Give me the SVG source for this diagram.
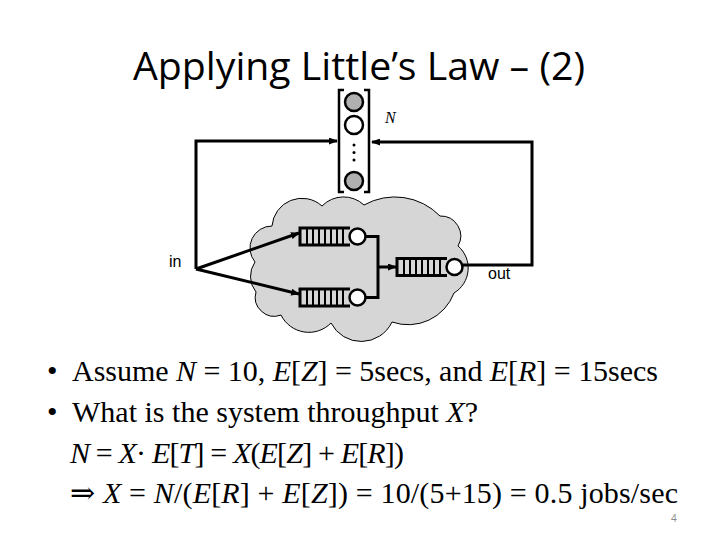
<svg xmlns="http://www.w3.org/2000/svg" xmlns:xlink="http://www.w3.org/1999/xlink" width="720" height="540" viewBox="0 0 720 540">
<style>
.title{font-family:"Open Sans","Liberation Sans",sans-serif;font-size:38px;fill:#000}
.lbl{font-family:"Liberation Sans",Arial,sans-serif;font-size:16px;fill:#000}
.body{font-family:"Liberation Serif","DejaVu Serif",serif;font-size:30px;fill:#000}
.it{font-style:italic}
.wire{fill:none;stroke:#000;stroke-width:3}
.bar{stroke:#000;stroke-width:2}
.srv{fill:#fff;stroke:#000;stroke-width:2.5}
.term{fill:#b0b0b0;stroke:#000;stroke-width:2.5}
.brk{fill:none;stroke:#000;stroke-width:2.5}
.cloud{fill:#d6d6d6;stroke:#000;stroke-width:1}
.pg{font-family:"Open Sans","Liberation Sans",sans-serif;font-size:10px;fill:#888}
</style>
<defs>
<marker id="ah" markerUnits="userSpaceOnUse" markerWidth="9" markerHeight="7" refX="8" refY="3.5" orient="auto">
<path d="M0,0 L9,3.5 L0,7 z" fill="#000"/>
</marker>
<g id="q">
<path class="wire" d="M0,0 H50 M0,17 H50 M0,-1.5 V18.5"/>
<path class="bar" d="M7,0 V17 M13,0 V17 M19,0 V17 M25,0 V17 M31,0 V17 M37,0 V17 M43,0 V17"/>
<circle class="srv" cx="57.5" cy="8.5" r="8"/>
</g>
</defs>

<text class="title" x="133" y="80" textLength="452" lengthAdjust="spacingAndGlyphs">Applying Little’s Law – (2)</text>

<g id="cloud">
<path class="cloud" d="M255,262 A22,22 0 0 1 272,226 A30,30 0 0 1 322,206 A30,30 0 0 1 364,205 A63,63 0 0 1 440,216 A20,20 0 0 1 458,246 A29,29 0 0 1 454,293 A49,49 0 0 1 392,322 A34,34 0 0 1 331,323 A31,31 0 0 1 281,315 A19,19 0 0 1 256,292 A25,25 0 0 1 255,262 Z"/>
</g>

<g id="connectors">
<polyline class="wire" points="196,269 196,141 337,141" marker-end="url(#ah)"/>
<polyline class="wire" points="463,265 532,265 532,142 372,142" marker-end="url(#ah)"/>
<line class="wire" x1="196" y1="269" x2="299" y2="233" marker-end="url(#ah)"/>
<line class="wire" x1="196" y1="269" x2="299" y2="294" marker-end="url(#ah)"/>
<polyline class="wire" points="365,236.5 378,236.5 378,297.5 365,297.5"/>
<line class="wire" x1="378" y1="267" x2="396" y2="267" marker-end="url(#ah)"/>
</g>

<g id="terminals">
<path class="brk" d="M344,90 H339 V192 H344 M364,90 H369 V192 H364"/>
<circle class="term" cx="354" cy="102" r="9"/>
<circle class="srv" cx="354" cy="125" r="9"/>
<circle cx="354" cy="145" r="1.5" fill="#000"/>
<circle cx="354" cy="152.5" r="1.5" fill="#000"/>
<circle cx="354" cy="160" r="1.5" fill="#000"/>
<circle class="term" cx="354" cy="181" r="9"/>
<text x="385" y="123" font-family="Liberation Serif,serif" font-style="italic" font-size="16">N</text>
</g>

<g id="queue-upper" transform="translate(300,228)"><use xlink:href="#q"/></g>
<g id="queue-lower" transform="translate(300,289)"><use xlink:href="#q"/></g>
<g id="queue-right" transform="translate(397,258.5)"><use xlink:href="#q"/></g>

<g id="labels">
<text class="lbl" x="169" y="267">in</text>
<text class="lbl" x="488" y="279">out</text>
</g>

<g id="text">
<text class="body" x="47" y="381">•</text>
<text class="body" x="72" y="381" textLength="586" lengthAdjust="spacing">Assume <tspan class="it">N</tspan> = 10, <tspan class="it">E</tspan>[<tspan class="it">Z</tspan>] = 5secs, and <tspan class="it">E</tspan>[<tspan class="it">R</tspan>] = 15secs</text>
<text class="body" x="47" y="422">•</text>
<text class="body" x="72" y="422" textLength="406" lengthAdjust="spacing">What is the system throughput <tspan class="it">X</tspan>?</text>
<text class="body" x="70" y="463" textLength="334" lengthAdjust="spacing"><tspan class="it">N</tspan> = <tspan class="it">X</tspan>· <tspan class="it">E</tspan>[<tspan class="it">T</tspan>] = <tspan class="it">X</tspan>(<tspan class="it">E</tspan>[<tspan class="it">Z</tspan>] + <tspan class="it">E</tspan>[<tspan class="it">R</tspan>])</text>
<text class="body" x="70" y="503" textLength="608" lengthAdjust="spacing">⇒ <tspan class="it">X</tspan> = <tspan class="it">N</tspan>/(<tspan class="it">E</tspan>[<tspan class="it">R</tspan>] + <tspan class="it">E</tspan>[<tspan class="it">Z</tspan>]) = 10/(5+15) = 0.5 jobs/sec</text>
<text class="pg" x="671" y="522">4</text>
</g>
</svg>
